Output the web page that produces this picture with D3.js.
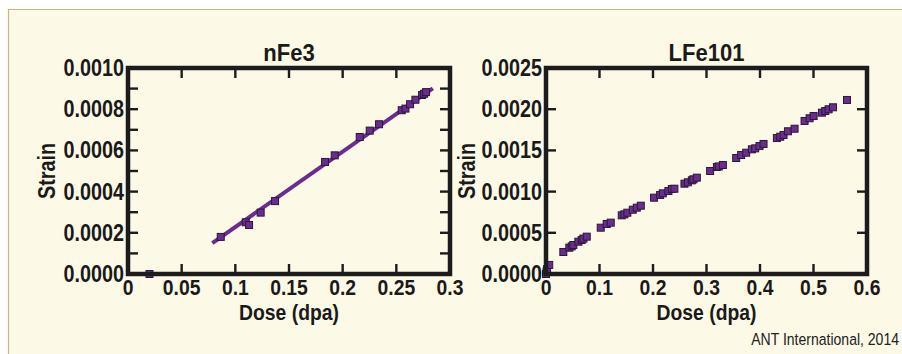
<!DOCTYPE html>
<html>
<head>
<meta charset="utf-8">
<script src="https://cdn.jsdelivr.net/npm/d3@7"></script>
<style>
  html, body { margin: 0; padding: 0; background: #ffffff; }
  svg { display: block; }
  .lbl { font-family: "Liberation Sans", Arial, sans-serif; font-weight: bold; fill: #1a1a1a; }
</style>
</head>
<body>
<svg id="chart" width="902" height="354"></svg>
<script>
// nFe3 specimen: dose (dpa) and strain
const nFe3Dose = [0.020, 0.0864, 0.1097, 0.1128, 0.1236, 0.137, 0.1836, 0.1926, 0.2159, 0.2252, 0.2339, 0.2550, 0.2585, 0.2628, 0.2678, 0.2740, 0.2759, 0.2777];
const nFe3Strain = [0.0, 0.000180, 0.000251, 0.000238, 0.000298, 0.000354, 0.000544, 0.000576, 0.000665, 0.000696, 0.000727, 0.000795, 0.000803, 0.000824, 0.000846, 0.000869, 0.000875, 0.000883];
// linear fit through nFe3 data
const nFe3FitDose = [0.0786, 0.284];
const nFe3FitStrain = [0.000150, 0.000901];

// LFe101 specimen: dose (dpa) and strain
const lFeDose = [0.0, 0.001, 0.002, 0.006, 0.0324, 0.0436, 0.0480, 0.0511, 0.0605, 0.0667, 0.0700, 0.0761, 0.1023, 0.1135, 0.121, 0.1416, 0.1465, 0.1521, 0.1622, 0.1697, 0.1772,
  0.202, 0.2133, 0.2183, 0.2288, 0.2352, 0.240, 0.2588, 0.2651, 0.2726, 0.2756, 0.2819, 0.3068, 0.3194, 0.3230, 0.3306,
  0.3555, 0.3648, 0.3742, 0.3848, 0.391, 0.3991, 0.4066, 0.4316, 0.4378, 0.444, 0.4522, 0.4646, 0.4833, 0.4927, 0.5002, 0.5158, 0.522, 0.5282, 0.5364, 0.5626];
const lFeStrain = [0.0, 0.00003, 0.00006, 0.00011, 0.000267, 0.000319, 0.000335, 0.000352, 0.000392, 0.000413, 0.000430, 0.000453, 0.000562, 0.000607, 0.000623, 0.000712, 0.000724, 0.000744, 0.000780, 0.000805, 0.000829,
  0.000926, 0.000959, 0.000979, 0.001007, 0.001032, 0.001035, 0.001096, 0.001113, 0.001137, 0.001149, 0.001169, 0.001250, 0.001299, 0.001305, 0.001323,
  0.001408, 0.001444, 0.001472, 0.001513, 0.001525, 0.001553, 0.001578, 0.001650, 0.001666, 0.001687, 0.001732, 0.001763, 0.001857, 0.001890, 0.001917, 0.001958, 0.001978, 0.001999, 0.002023, 0.002112];

// axis settings
const nFe3XTicks = [0, 0.05, 0.1, 0.15, 0.2, 0.25, 0.3];
const nFe3XLabels = ["0", "0.05", "0.1", "0.15", "0.2", "0.25", "0.3"];
const nFe3YTicks = [0, 0.0002, 0.0004, 0.0006, 0.0008, 0.0010];
const nFe3YMinor = [0.0001, 0.0003, 0.0005, 0.0007, 0.0009];
const lFeXTicks = [0, 0.1, 0.2, 0.3, 0.4, 0.5, 0.6];
const lFeXLabels = ["0", "0.1", "0.2", "0.3", "0.4", "0.5", "0.6"];
const lFeYTicks = [0, 0.0005, 0.0010, 0.0015, 0.0020, 0.0025];

const svg = d3.select("#chart");
const bg = "#fcf9e7";
const frameColor = "#1c1c1c";
const purple = "#6a2c8e";
const narrow = 0.86; // horizontal squeeze for a condensed look

// place a horizontally condensed text at (x, y)
function ctext(sel, x, y, sx) {
  return sel.attr("x", 0).attr("y", 0)
    .attr("transform", (d, i) => {
      const px = typeof x === "function" ? x(d, i) : x;
      const py = typeof y === "function" ? y(d, i) : y;
      return `translate(${px},${py}) scale(${sx},1)`;
    });
}

// panel background with tan border on top and left
svg.append("rect").attr("x", 8).attr("y", 9).attr("width", 902).attr("height", 360).attr("fill", bg);
svg.append("line").attr("x1", 8).attr("x2", 902).attr("y1", 9.5).attr("y2", 9.5).attr("stroke", "#d2b27c").attr("stroke-width", 1.2);
svg.append("line").attr("x1", 8.5).attr("x2", 8.5).attr("y1", 9).attr("y2", 354).attr("stroke", "#d2b27c").attr("stroke-width", 1.2);

function panel(opt) {
  const g = svg.append("g");
  const x = d3.scaleLinear().domain(opt.xDomain).range([opt.left, opt.right]);
  const y = d3.scaleLinear().domain(opt.yDomain).range([opt.bottom, opt.top]);
  const tickLen = 10;

  // tick marks, drawn inward from all four sides
  const xt = opt.xTicks.slice(1, -1);
  g.selectAll(null).data(xt).join("line")
    .attr("x1", d => x(d)).attr("x2", d => x(d))
    .attr("y1", opt.bottom).attr("y2", opt.bottom - tickLen)
    .attr("stroke", frameColor).attr("stroke-width", 2.4);
  g.selectAll(null).data(xt).join("line")
    .attr("x1", d => x(d)).attr("x2", d => x(d))
    .attr("y1", opt.top).attr("y2", opt.top + tickLen)
    .attr("stroke", frameColor).attr("stroke-width", 2.4);
  const yt = opt.yTicks.slice(1, -1).concat(opt.yMinor || []);
  g.selectAll(null).data(yt).join("line")
    .attr("x1", opt.left).attr("x2", opt.left + tickLen)
    .attr("y1", d => y(d)).attr("y2", d => y(d))
    .attr("stroke", frameColor).attr("stroke-width", 2.4);
  g.selectAll(null).data(yt).join("line")
    .attr("x1", opt.right).attr("x2", opt.right - tickLen)
    .attr("y1", d => y(d)).attr("y2", d => y(d))
    .attr("stroke", frameColor).attr("stroke-width", 2.4);

  // fit line
  if (opt.fitX) {
    const line = d3.line().x(d => x(d[0])).y(d => y(d[1]));
    g.append("path").datum(d3.zip(opt.fitX, opt.fitY))
      .attr("d", line).attr("fill", "none")
      .attr("stroke", purple).attr("stroke-width", 4);
  }

  // data points as squares
  const s = 7;
  g.selectAll(null).data(d3.zip(opt.xs, opt.ys)).join("rect")
    .attr("x", d => x(d[0]) - s / 2).attr("y", d => y(d[1]) - s / 2)
    .attr("width", s).attr("height", s)
    .attr("fill", purple).attr("stroke", "#2b1838").attr("stroke-width", 1);

  // frame
  g.append("rect")
    .attr("x", opt.left).attr("y", opt.top)
    .attr("width", opt.right - opt.left).attr("height", opt.bottom - opt.top)
    .attr("fill", "none").attr("stroke", frameColor).attr("stroke-width", 4.5);

  // tick labels
  ctext(g.selectAll(null).data(opt.xTicks).join("text").attr("class", "lbl"),
      d => x(d), opt.bottom + 21, narrow)
    .attr("text-anchor", "middle").attr("font-size", 22.5)
    .text((d, i) => opt.xLabels[i]);
  ctext(g.selectAll(null).data(opt.yTicks).join("text").attr("class", "lbl"),
      opt.left - 4, d => y(d) + 8, narrow)
    .attr("text-anchor", "end").attr("font-size", 23)
    .text(d => d3.format(".4f")(d));

  // titles
  ctext(g.append("text").attr("class", "lbl"), (opt.left + opt.right) / 2, opt.top - 7, 0.92)
    .attr("text-anchor", "middle").attr("font-size", 24).text(opt.title);
  ctext(g.append("text").attr("class", "lbl"), (opt.left + opt.right) / 2, opt.bottom + 46, narrow)
    .attr("text-anchor", "middle").attr("font-size", 22.5).text("Dose (dpa)");
  g.append("text").attr("class", "lbl")
    .attr("transform", `translate(${opt.yTitleX},${(opt.top + opt.bottom) / 2}) rotate(-90) scale(${narrow},1)`)
    .attr("text-anchor", "middle").attr("font-size", 23).text("Strain");
}

panel({
  title: "nFe3", left: 128, right: 450, top: 68, bottom: 274,
  xDomain: [0, 0.3], yDomain: [0, 0.001],
  xTicks: nFe3XTicks, xLabels: nFe3XLabels, yTicks: nFe3YTicks, yMinor: nFe3YMinor,
  xs: nFe3Dose, ys: nFe3Strain, fitX: nFe3FitDose, fitY: nFe3FitStrain, yTitleX: 55
});

panel({
  title: "LFe101", left: 546, right: 867, top: 68, bottom: 274,
  xDomain: [0, 0.6], yDomain: [0, 0.0025],
  xTicks: lFeXTicks, xLabels: lFeXLabels, yTicks: lFeYTicks,
  xs: lFeDose, ys: lFeStrain, yTitleX: 475
});

ctext(svg.append("text"), 899, 345, 0.85)
  .attr("text-anchor", "end")
  .attr("font-family", "\"Liberation Sans\", Arial, sans-serif")
  .attr("font-size", 16.5).attr("fill", "#222")
  .text("ANT International, 2014");
</script>
</body>
</html>
